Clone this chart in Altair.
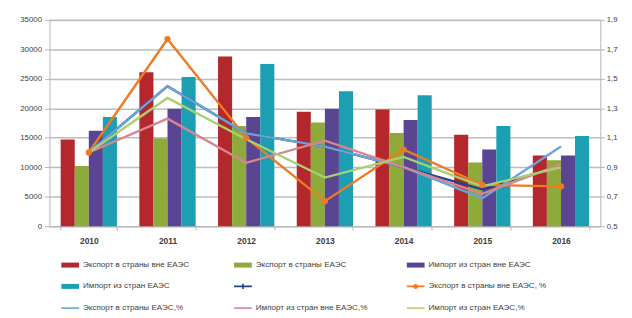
import altair as alt
import pandas as pd

years = ["2010", "2011", "2012", "2013", "2014", "2015", "2016"]

bar_names = [
    "Экспорт в страны вне ЕАЭС",
    "Экспорт в страны ЕАЭС",
    "Импорт из стран вне ЕАЭС",
    "Импорт из стран ЕАЭС",
]
export_non_eaeu = [14700, 26100, 28800, 19400, 19800, 15500, 12000]
export_eaeu = [10200, 14900, 17000, 17600, 15800, 10800, 11200]
import_non_eaeu = [16200, 19900, 18500, 19900, 18000, 13000, 12000]
import_eaeu = [18500, 25300, 27500, 22900, 22200, 17000, 15300]

line_names = [
    " ",
    "Экспорт в страны вне ЕАЭС, %",
    "Экспорт в страны ЕАЭС,%",
    "Импорт из стран вне ЕАЭС,%",
    "Импорт из стран ЕАЭС,%",
]
unnamed_idx = [1.00, 1.45, 1.13, 1.04, 0.90, 0.75, 0.91]
export_non_idx = [1.00, 1.77, 1.10, 0.67, 1.02, 0.78, 0.77]
export_eaeu_idx = [1.00, 1.45, 1.13, 1.04, 0.90, 0.69, 1.04]
import_non_idx = [1.00, 1.23, 0.93, 1.08, 0.90, 0.72, 0.92]
import_eaeu_idx = [1.00, 1.37, 1.09, 0.83, 0.97, 0.77, 0.90]

left_ticks = [0, 5000, 10000, 15000, 20000, 25000, 30000, 35000]
right_ticks = [0.5, 0.7, 0.9, 1.1, 1.3, 1.5, 1.7, 1.9]

bar_colors = ["#b3272d", "#8eaa3b", "#5a4593", "#1c9fb3"]
line_colors = ["#24457f", "#ee7a24", "#6aa3d8", "#d9858e", "#a9cf72"]

bar_series = [export_non_eaeu, export_eaeu, import_non_eaeu, import_eaeu]
line_series = [unnamed_idx, export_non_idx, export_eaeu_idx, import_non_idx, import_eaeu_idx]

bars_df = pd.DataFrame(
    [{"year": y, "series": n, "value": v}
     for n, vals in zip(bar_names, bar_series) for y, v in zip(years, vals)]
)
lines_df = pd.DataFrame(
    [{"year": y, "series": n, "value": v, "k": i}
     for i, (n, vals) in enumerate(zip(line_names, line_series)) for y, v in zip(years, vals)]
)

FONT = "Liberation Sans"
TXT = "#404040"

# legend symbol shapes (custom paths in the -1..1 unit square)
bar_path = "M-1,-0.28H1V0.28H-1Z"
line_path = "M-1,-0.09H1V0.09H-1Z"
circle_path = ("M-1,-0.09H1V0.09H-1Z M-0.28,0A0.28,0.28 0 1,1 0.28,0"
               "A0.28,0.28 0 1,1 -0.28,0Z")
plus_path = "M-1,-0.09H1V0.09H-1Z M-0.09,-0.3H0.09V0.3H-0.09Z"

bar_list = "[" + ",".join("'" + n + "'" for n in bar_names) + "]"
shape_expr = (
    "indexof(" + bar_list + ", datum.value) >= 0 ? '" + bar_path + "' : "
    "datum.value == ' ' ? '" + plus_path + "' : "
    "datum.value == '" + line_names[1] + "' ? '" + circle_path + "' : '" + line_path + "'"
)

color_scale = alt.Scale(domain=bar_names + line_names, range=bar_colors + line_colors)

legend = alt.Legend(
    title=None,
    orient="none",
    legendX=12,
    legendY=239,
    direction="horizontal",
    columns=3,
    gridAlign="all",
    columnPadding=33,
    rowPadding=9,
    symbolSize=324,
    symbolType={"expr": shape_expr},
    symbolFillColor={"expr": "scale('color', datum.value)"},
    symbolStrokeWidth=0,
    symbolOpacity=1,
    labelFont=FONT,
    labelFontSize=8.2,
    labelColor=TXT,
    labelOffset=4,
    labelLimit=200,
)

color = alt.Color("series:N", scale=color_scale, legend=legend)

x_enc = alt.X(
    "year:N",
    title=None,
    scale=alt.Scale(paddingInner=0.285, paddingOuter=0.1425),
    axis=alt.Axis(
        labelAngle=0,
        tickBand="extent",
        tickSize=4,
        labelPadding=7,
        labelFontSize=8.5,
        labelFontWeight="bold",
        grid=False,
    ),
)

bars = alt.Chart(bars_df).mark_bar().encode(
    x=x_enc,
    xOffset=alt.XOffset("series:N", scale=alt.Scale(domain=bar_names, paddingInner=0, paddingOuter=0)),
    y=alt.Y(
        "value:Q",
        title=None,
        scale=alt.Scale(domain=[0, 35000], nice=False),
        axis=alt.Axis(values=left_ticks, format="d", orient="left", grid=True,
                      tickSize=5, labelPadding=3),
    ),
    color=color,
)

y_right = alt.Y(
    "value:Q",
    title=None,
    scale=alt.Scale(domain=[0.5, 1.9], nice=False, zero=False),
    axis=alt.Axis(
        values=right_ticks,
        orient="right",
        grid=False,
        tickSize=4,
        labelPadding=2,
        labelOverlap=False,
        labelExpr="replace(format(datum.value, '.1f'), '.', ',')",
    ),
)

navy_line = alt.Chart(lines_df).transform_filter(
    alt.datum.k == 0
).mark_line(strokeWidth=2.4).encode(
    x=x_enc,
    y=y_right,
    color=color,
)

other_lines = alt.Chart(lines_df).transform_filter(
    alt.datum.k > 0
).mark_line(strokeWidth=2.4).encode(
    x=x_enc,
    y=y_right,
    color=color,
)

points = alt.Chart(lines_df).transform_filter(
    alt.datum.k == 1
).mark_point(filled=True, size=40, opacity=1).encode(
    x=x_enc,
    y=y_right,
    color=color,
)

chart = alt.layer(bars, alt.layer(navy_line, other_lines, points)).resolve_scale(
    y="independent"
).properties(
    width=558,
    height=209,
    autosize=alt.AutoSizeParams(type="none"),
    padding={"left": 42, "top": 10, "right": 24, "bottom": 91},
).configure_view(
    stroke="transparent"
).configure_axis(
    labelFont=FONT,
    labelFontSize=8,
    labelColor=TXT,
    domainColor="#b5b5b5",
    tickColor="#b5b5b5",
    gridColor="#bdbdbd",
    gridWidth=1.6,
)

chart.save("out.html", embed_options={"renderer": "svg", "actions": False})
